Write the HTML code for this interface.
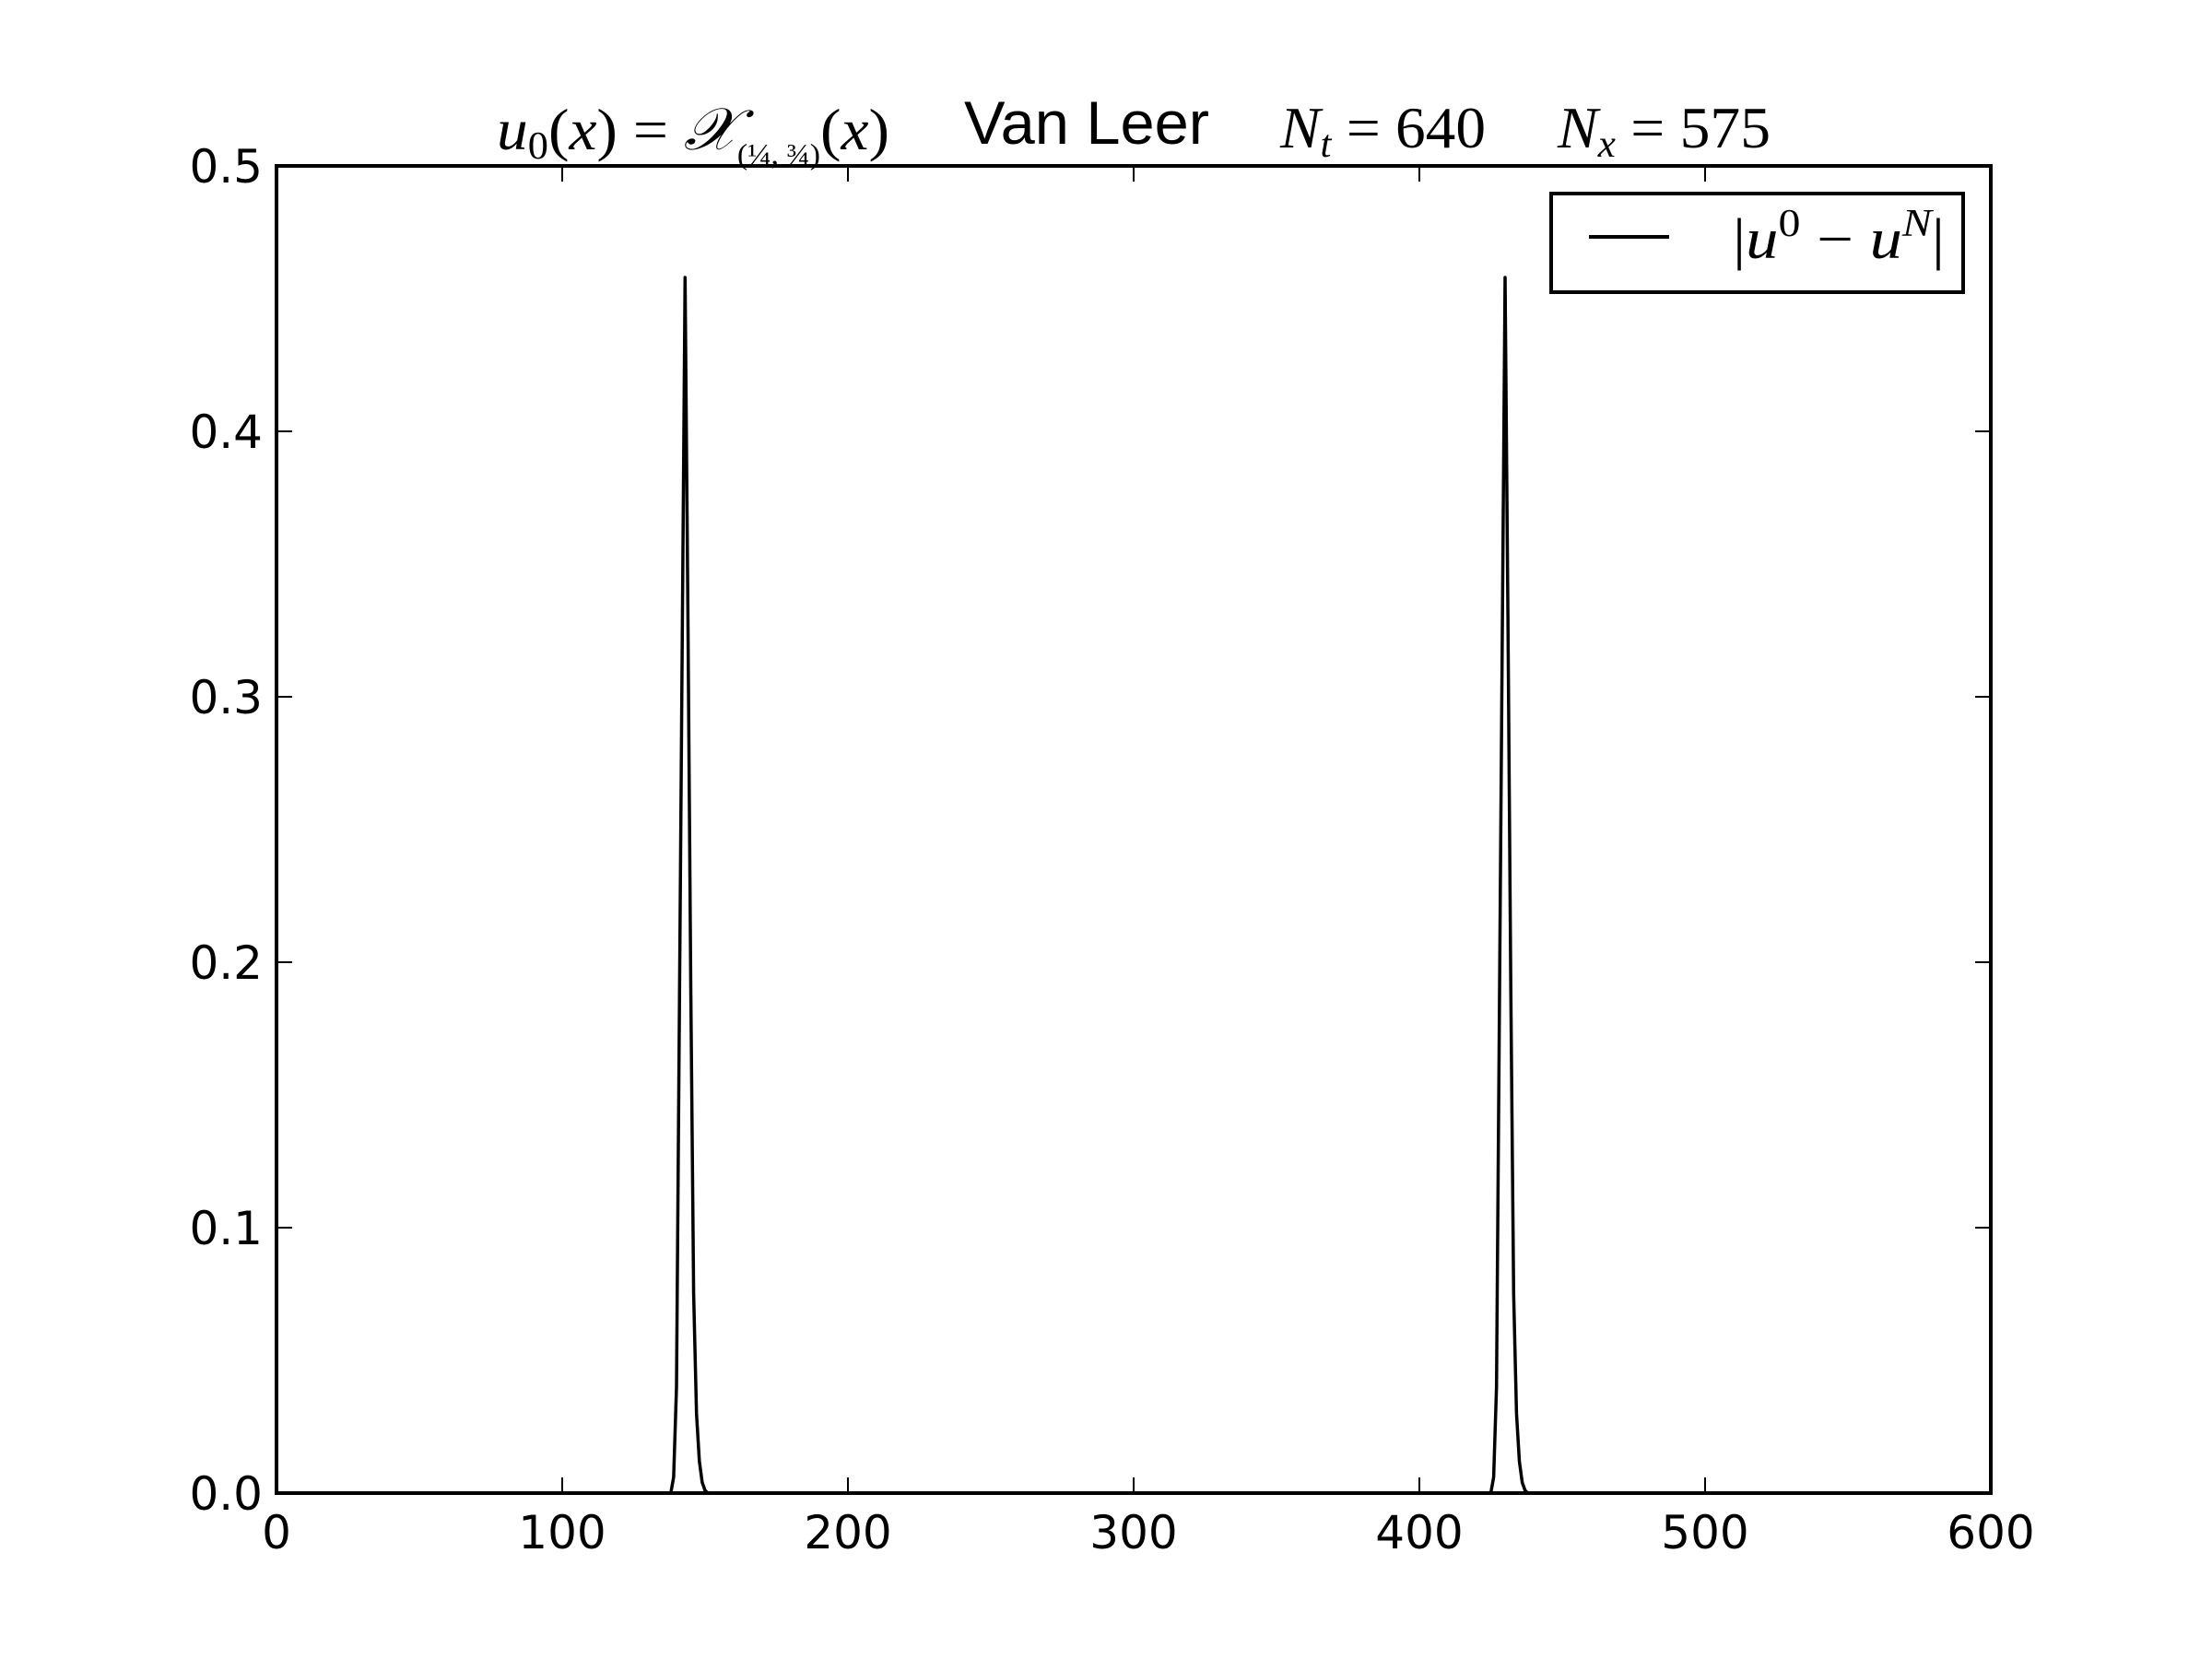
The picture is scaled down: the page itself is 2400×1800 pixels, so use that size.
<!DOCTYPE html>
<html><head><meta charset="utf-8"><style>
html,body{margin:0;padding:0;background:#fff;}
svg{display:block;}
</style></head><body>
<svg id="chart" width="2400" height="1800" xmlns="http://www.w3.org/2000/svg">
<rect width="2400" height="1800" fill="#fff"/>
<g id="title" font-size="64" fill="#000">
  <text x="539" y="162" textLength="426" lengthAdjust="spacingAndGlyphs" font-family="Liberation Serif, serif" font-style="italic">u<tspan font-size="42" dy="10" font-style="normal">0</tspan><tspan dy="-10" font-style="normal">(</tspan>x<tspan font-style="normal">) = </tspan>𝒳<tspan font-size="32" dy="16" font-style="normal">(¼, ¾)</tspan><tspan dy="-16" font-style="normal">(</tspan>x<tspan font-style="normal">)</tspan></text>
  <text x="1046" y="156" textLength="266" lengthAdjust="spacingAndGlyphs" font-family="Liberation Sans, sans-serif" font-size="66">Van Leer</text>
  <text x="1389" y="160" textLength="223" lengthAdjust="spacingAndGlyphs" font-family="Liberation Serif, serif" font-style="italic">N<tspan font-size="42" dy="10">t</tspan><tspan dy="-10" font-style="normal"> = 640</tspan></text>
  <text x="1690" y="160" textLength="231" lengthAdjust="spacingAndGlyphs" font-family="Liberation Serif, serif" font-style="italic">N<tspan font-size="42" dy="10">x</tspan><tspan dy="-10" font-style="normal"> = 575</tspan></text>
</g>
<g id="ticks"></g>
<path id="series" fill="none" stroke="#000" stroke-width="3.5" stroke-linejoin="round"/>
<rect x="300" y="180" width="1860" height="1440" fill="none" stroke="#000" stroke-width="4"/>
<g>
  <rect x="1683" y="210" width="447" height="107" fill="#fff" stroke="#000" stroke-width="4"/>
  <line x1="1724" y1="257" x2="1811" y2="257" stroke="#000" stroke-width="4"/>
  <text x="1880" y="280" textLength="230" lengthAdjust="spacingAndGlyphs" font-family="Liberation Serif, serif" font-style="italic" font-size="62"><tspan font-style="normal">|</tspan>u<tspan font-size="42" dy="-24" font-style="normal">0</tspan><tspan dy="24" font-style="normal"> − </tspan>u<tspan font-size="42" dy="-24">N</tspan><tspan dy="24" font-style="normal">|</tspan></text>
</g>
</svg>
<script>
const xTicks = [0, 100, 200, 300, 400, 500, 600];
const yTicks = [0.0, 0.1, 0.2, 0.3, 0.4, 0.5];
const yTickLabels = ["0.0", "0.1", "0.2", "0.3", "0.4", "0.5"];
const xValues = [0, 138, 139, 140, 141, 142, 143, 144, 145, 146, 147, 148, 149, 150, 151,
  425, 426, 427, 428, 429, 430, 431, 432, 433, 434, 435, 436, 437, 438, 574];
const yValues = [0, 0, 0.006, 0.04, 0.18, 0.32, 0.458, 0.33, 0.19, 0.075, 0.03, 0.012, 0.004, 0.001, 0,
  0, 0.006, 0.04, 0.18, 0.32, 0.458, 0.33, 0.19, 0.075, 0.03, 0.012, 0.004, 0.001, 0, 0];

const X0 = 300, X1 = 2160, Y0 = 1620, Y1 = 180;
function sx(v) { return X0 + (v - 0) / (600 - 0) * (X1 - X0); }
function sy(v) { return Y0 - (v - 0) / (0.5 - 0) * (Y0 - Y1); }
const NS = "http://www.w3.org/2000/svg";
const tg = document.getElementById('ticks');
function mk(tag, attrs) { const e = document.createElementNS(NS, tag); for (const k in attrs) e.setAttribute(k, attrs[k]); return e; }
xTicks.forEach(function (t) {
  const x = sx(t);
  const a = mk('line', {x1: x, x2: x, y1: Y0, y2: Y0 - 17, stroke: '#000', 'stroke-width': 2});
  
  
  tg.appendChild(a);
  const b = mk('line', {x1: x, x2: x, y1: Y1, y2: Y1 + 17, stroke: '#000', 'stroke-width': 2});
  
  
  tg.appendChild(b);
  const l = mk('text', {x: x, y: Y0 + 60, 'text-anchor': 'middle', 'font-family': 'DejaVu Sans, Liberation Sans, sans-serif', 'font-size': 50});
  l.textContent = String(t);
  
  
  tg.appendChild(l);
});
yTicks.forEach(function (t, i) {
  const y = sy(t);
  const a = mk('line', {x1: X0, x2: X0 + 17, y1: y, y2: y, stroke: '#000', 'stroke-width': 2});
  
  
  tg.appendChild(a);
  const b = mk('line', {x1: X1, x2: X1 - 17, y1: y, y2: y, stroke: '#000', 'stroke-width': 2});
  
  
  tg.appendChild(b);
  const l = mk('text', {x: X0 - 15, y: y + 18, 'text-anchor': 'end', 'font-family': 'DejaVu Sans, Liberation Sans, sans-serif', 'font-size': 50});
  l.textContent = yTickLabels[i];
  
  
  tg.appendChild(l);
});
let d = '';
xValues.forEach(function (v, i) { d += (i ? 'L' : 'M') + sx(v).toFixed(1) + ' ' + sy(yValues[i]).toFixed(1); });
document.getElementById('series').setAttribute('d', d);
</script>
</body></html>
